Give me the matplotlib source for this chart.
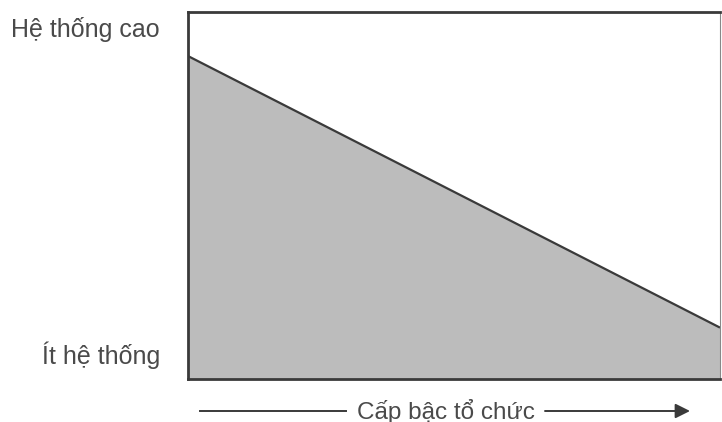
import matplotlib
matplotlib.use('Agg')
import matplotlib.pyplot as plt

# hierarchy position (left = top level, right = bottom level) vs. degree of systematisation
hierarchy = [0.0, 1.0]
systematic = [0.88, 0.14]

top_label = "Hệ thống cao"
bottom_label = "Ít hệ thống"
axis_label = "Cấp bậc tổ chức"

plt.rcParams['font.family'] = ['Liberation Sans', 'DejaVu Sans']

line_color = '#3a3a3a'
fill_color = '#bcbcbc'
text_color = '#4a4a4a'

fig = plt.figure(figsize=(7.22, 4.22), dpi=100)
ax = fig.add_axes([188 / 722, 43 / 422, 532 / 722, 367 / 422])
ax.set_xlim(0, 1)
ax.set_ylim(0, 1)
ax.set_xticks([])
ax.set_yticks([])

ax.fill_between(hierarchy, systematic, 0, color=fill_color, lw=0)
ax.plot(hierarchy, systematic, color=line_color, lw=1.6, solid_capstyle='butt')

for side, spine in ax.spines.items():
    spine.set_color(line_color)
    spine.set_linewidth(2.0)
ax.spines['right'].set_linewidth(0.8)
ax.spines['right'].set_color('#888888')

fig.text(160 / 722, 1 - 29 / 422, top_label, ha='right', va='center',
         fontsize=18, color=text_color)
fig.text(160 / 722, 1 - 355 / 422, bottom_label, ha='right', va='center',
         fontsize=18, color=text_color)

# bottom arrow with label in the middle
y_arrow = 1 - 411 / 422
fig.text(446 / 722, y_arrow, axis_label, ha='center', va='center',
         fontsize=17.5, color=text_color)
fig.add_artist(plt.Line2D([200 / 722, 346 / 722], [y_arrow, y_arrow],
                          color=line_color, lw=1.4, transform=fig.transFigure))
ax.annotate("", xy=(690 / 722, y_arrow), xytext=(545 / 722, y_arrow),
            xycoords='figure fraction', textcoords='figure fraction',
            arrowprops=dict(arrowstyle='-|>', color=line_color, lw=1.4,
                            mutation_scale=22, shrinkA=0, shrinkB=0))

fig.savefig('out.png', dpi=100)
